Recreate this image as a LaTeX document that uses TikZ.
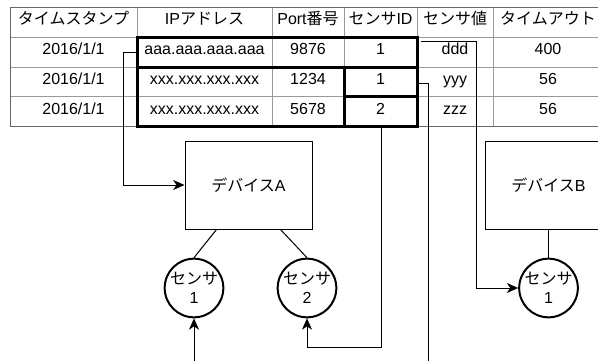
\documentclass[tikz,border=0pt]{standalone}
\usepackage{fontspec}
\setmainfont{Liberation Sans}
\newfontfamily\jp{Noto Sans CJK JP}
\usetikzlibrary{arrows.meta,calc}
\begin{document}
\begin{tikzpicture}[x=0.75pt,y=-0.75pt,
  every node/.style={font=\fontsize{12}{14.5}\selectfont},
  cell/.style={inner sep=0pt, anchor=base},
  grid/.style={draw=black!40, line width=0.75pt},
  border/.style={draw=black!60, line width=0.75pt},
  thickbox/.style={draw=black, line width=2.25pt},
  device/.style={draw, line width=0.75pt, minimum width=95.25pt, minimum height=66pt, inner sep=0pt},
  sensor/.style={circle, draw, line width=1.5pt, minimum size=44pt, inner sep=0pt, align=center, fill=white},
  link/.style={line width=0.75pt},
  arr/.style={link, -{Stealth[length=8.5pt,width=7.5pt,inset=2.5pt]}}
]
\fill[white] (0,0) rectangle (598,360);
\useasboundingbox (0,0) rectangle (598,360);

% table grid
\foreach \xx in {137,272,344,417,493} \draw[grid] (\xx,8) -- (\xx,126);
\foreach \yy in {37.5,67,96.5} \draw[grid] (10,\yy) -- (603,\yy);
\draw[border] (603,8) -- (10,8) -- (10,126) -- (603,126);

% header
\node[cell] (h1) at (73.5,25) {\jp タイムスタンプ};
\node[cell] (h2) at (204.5,25) {IP{\jp アドレス}};
\node[cell] (h3) at (308,25) {Port{\jp 番号}};
\node[cell] (h4) at (380.5,25) {{\jp センサ}ID};
\node[cell] (h5) at (455,25) {\jp センサ値};
\node[cell] (h6) at (548,25) {\jp タイムアウト};

% row 1
\node[cell] (r1c1) at (73.5,55) {2016/1/1};
\node[cell] (r1c2) at (204.5,55) {aaa.aaa.aaa.aaa};
\node[cell] (r1c3) at (308,55) {9876};
\node[cell] (r1c4) at (380.5,55) {1};
\node[cell] (r1c5) at (455,55) {ddd};
\node[cell] (r1c6) at (548,55) {400};
% row 2
\node[cell] (r2c1) at (73.5,84.5) {2016/1/1};
\node[cell] (r2c2) at (204.5,84.5) {xxx.xxx.xxx.xxx};
\node[cell] (r2c3) at (308,84.5) {1234};
\node[cell] (r2c4) at (380.5,84.5) {1};
\node[cell] (r2c5) at (455,84.5) {yyy};
\node[cell] (r2c6) at (548,84.5) {56};
% row 3
\node[cell] (r3c1) at (73.5,114) {2016/1/1};
\node[cell] (r3c2) at (204.5,114) {xxx.xxx.xxx.xxx};
\node[cell] (r3c3) at (308,114) {5678};
\node[cell] (r3c4) at (380.5,114) {2};
\node[cell] (r3c5) at (455,114) {zzz};
\node[cell] (r3c6) at (548,114) {56};

% thick highlight boxes
\draw[thickbox] (137,37.5) rectangle (417,67);
\draw[thickbox] (137,67) rectangle (417,126);
\draw[thickbox] (344,67) rectangle (417,96.5);
\draw[thickbox] (344,96.5) rectangle (417,126);

% devices and sensors
\node[device] (devA) at (248.5,185) {{\jp デバイス}A};
\node[device] (devB) at (548.5,185) {{\jp デバイス}B};
\node[sensor] (sA1) at (194,288) {{\jp センサ}\\1};
\node[sensor] (sA2) at (307,288) {{\jp センサ}\\2};
\node[sensor] (sB1) at (548.5,288) {{\jp センサ}\\1};

\draw[link] ($(devA.south west)!0.25!(devA.south east)$) -- (sA1.north);
\draw[link] ($(devA.south west)!0.75!(devA.south east)$) -- (sA2.north);
\draw[link] (devA.south -| sB1) -- (sB1.north);

% connectors
\coordinate (ipA) at (137,52.5);
\draw[arr] (ipA) -- (123,52.5) |- (devA.west);

\coordinate (id3) at (381,126);
\draw[arr] (id3) -- (381,347) -| (sA2.south);

\coordinate (id2) at (417,83);
\coordinate (id2end) at (428,365);
\draw[link] (id2) -- (428,83) -- (id2end);

\coordinate (s1in) at (194,365);
\draw[arr] (s1in) -- (sA1.south);

\coordinate (dddpt) at (421,42);
\draw[arr] (dddpt) -- (476,42) |- (sB1.west);
\end{tikzpicture}
\end{document}
